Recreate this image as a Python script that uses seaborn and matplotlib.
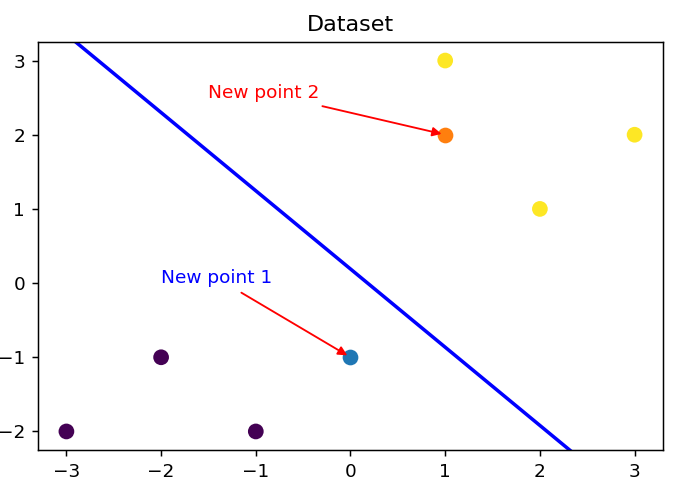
import matplotlib
matplotlib.use("Agg")
import matplotlib.pyplot as plt
import seaborn as sns
import pandas as pd

# data
x_vals = [-3, -2, -1, 1, 2, 3]
y_vals = [-2, -1, -2, 3, 1, 2]
labels = [0, 0, 0, 1, 1, 1]
new1 = (0, -1)
new2 = (1, 2)
line_x = [-3.3, 3.3]
line_y = [3.67, -3.29]

df = pd.DataFrame({"x": x_vals, "y": y_vals, "label": labels})

dpi = 133.3
fig = plt.figure(figsize=(682 / dpi, 487 / dpi), dpi=dpi)
ax = fig.add_axes([38 / 682, 1 - 450 / 487, (663 - 38) / 682, (450 - 42) / 487])

sns.scatterplot(data=df, x="x", y="y", hue="label",
                palette={0: "#440154", 1: "#fde725"},
                s=72, linewidth=0, legend=False, ax=ax, zorder=3)
sns.scatterplot(x=[new1[0]], y=[new1[1]], color="#1f77b4", s=72, linewidth=0, ax=ax, zorder=3)
sns.scatterplot(x=[new2[0]], y=[new2[1]], color="#ff7f0e", s=72, linewidth=0, ax=ax, zorder=3)
sns.lineplot(x=line_x, y=line_y, color="blue", linewidth=1.9, ax=ax, sort=False)

ax.annotate("New point 1", xy=new1, xytext=(-2, 0), color="blue",
            arrowprops=dict(arrowstyle="-|>", color="red"))
ax.annotate("New point 2", xy=new2, xytext=(-1.5, 2.5), color="red",
            arrowprops=dict(arrowstyle="-|>", color="red"))

ax.set_xlim(-3.3, 3.3)
ax.set_ylim(-2.25, 3.25)
ax.set_xlabel("")
ax.set_ylabel("")
ax.set_title("Dataset")

fig.savefig("out.png", dpi=dpi)
